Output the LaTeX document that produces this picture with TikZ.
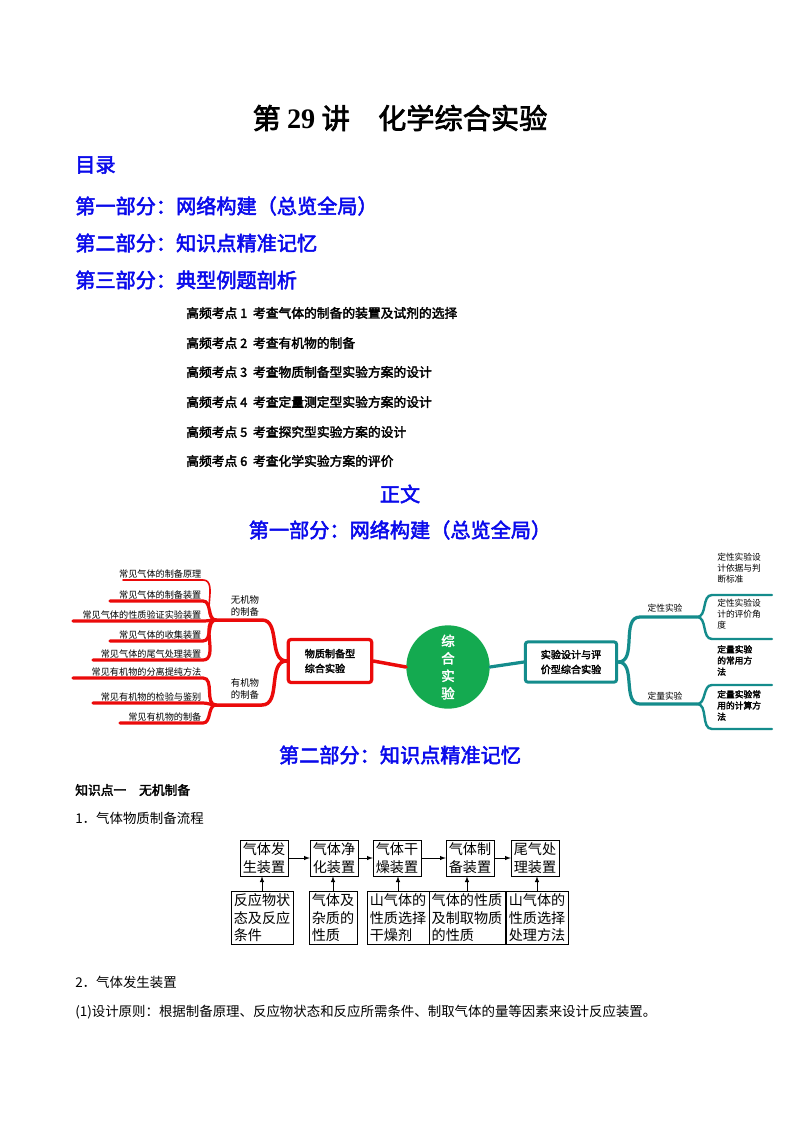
\documentclass[tikz,border=0pt]{standalone}
\usepackage{fontspec}
\setmainfont{Noto Sans CJK SC}[AutoFakeBold=2.5]
\newfontfamily\ser{Liberation Serif}
\definecolor{hblue}{RGB}{10,10,235}
\definecolor{mred}{RGB}{235,10,10}
\definecolor{teal2}{RGB}{20,140,140}
\definecolor{cgreen}{RGB}{20,170,80}
\begin{document}
\begin{tikzpicture}[x=0.744pt,y=-0.744pt,
  head/.style={text=hblue,font=\fontsize{15}{15}\selectfont\bfseries,inner sep=0},
  item/.style={anchor=west,font=\fontsize{9.5}{10}\selectfont\bfseries,inner sep=0},
  leaf/.style={anchor=south east,font=\fontsize{6.8}{7}\selectfont,inner sep=1pt},
  rl/.style={mred,line width=2.6pt,line cap=round},
  tl/.style={teal2,line width=2.4pt,line cap=round},
  tleaf/.style={anchor=north west,align=left,font=\fontsize{6.5}{8.3}\selectfont,inner sep=0},
  fb/.style={draw,line width=0.5pt,align=left,font=\fontsize{10.5}{13}\selectfont,inner sep=2pt},
  arr/.style={-latex,line width=0.5pt}]
\useasboundingbox (0,0) rectangle (800,1132);
\fill[white] (0,0) rectangle (800,1132);
\node[font=\fontsize{21}{21}\selectfont\bfseries,inner sep=0] (title) at (400,118) {第 {\ser 29} 讲\quad 化学综合实验};
\node[head,anchor=west] (ml) at (75,165) {目录};
\node[head,anchor=west] (p1) at (75,206) {第一部分：网络构建（总览全局）};
\node[head,anchor=west] (p2) at (75,243) {第二部分：知识点精准记忆};
\node[head,anchor=west] (p3) at (75,280) {第三部分：典型例题剖析};
\node[item] (i1) at (186,313) {高频考点 1\ \ 考查气体的制备的装置及试剂的选择};
\node[item] (i2) at (186,343) {高频考点 2\ \ 考查有机物的制备};
\node[item] (i3) at (186,372) {高频考点 3\ \ 考查物质制备型实验方案的设计};
\node[item] (i4) at (186,402) {高频考点 4\ \ 考查定量测定型实验方案的设计};
\node[item] (i5) at (186,432) {高频考点 5\ \ 考查探究型实验方案的设计};
\node[item] (i6) at (186,461) {高频考点 6\ \ 考查化学实验方案的评价};
\node[head] (zw) at (400,494) {正文};
\node[head] (h1) at (400,530) {第一部分：网络构建（总览全局）};
% mind map left
\node[draw=mred,line width=2.4pt,rounded corners=2pt,minimum width=62pt,minimum height=32pt,font=\fontsize{7.5}{11}\selectfont\bfseries,align=left,inner sep=5pt] (rb) at (330,661) {物质制备型\\综合实验};
\node[circle,fill=cgreen,minimum size=62pt,inner sep=0,text=white,align=center,font=\fontsize{10}{13}\selectfont\bfseries] (cc) at (448,667) {综\\合\\实\\验};
\draw[rl] (rb.east) -- (cc.west);
\coordinate (hu) at (216,620);
\coordinate (hl) at (216,705);
\draw[rl] (rb.west) to[out=180,in=0] (262,620) -- (hu);
\draw[rl] (rb.west) to[out=180,in=0] (262,705) -- (hl);
\node[font=\fontsize{7}{9}\selectfont,align=left] (lu) at (245,606) {无机物\\的制备};
\node[font=\fontsize{7}{9}\selectfont,align=left] (ll) at (245,689) {有机物\\的制备};
\foreach \y/\x/\t/\h/\w in {580/123/常见气体的制备原理/hu/1.2pt,601/110/常见气体的制备装置/hu/2.4pt,621/73/常见气体的性质验证实验装置/hu/2.4pt,641/110/常见气体的收集装置/hu/2.4pt,660/93/常见气体的尾气处理装置/hu/2.4pt,678/73/常见有机物的分离提纯方法/hl/2.4pt,703/93/常见有机物的检验与鉴别/hl/2.4pt,723/120/常见有机物的制备/hl/2.4pt}{
  \draw[mred,line width=\w,line cap=round] (\x,\y) -- (203,\y) to[out=0,in=180] (\h);
  \node[leaf] at (203,\y) {\t};
}
% right
\node[draw=teal2,line width=2.2pt,rounded corners=2pt,minimum width=68pt,minimum height=30pt,font=\fontsize{7.5}{11}\selectfont\bfseries,align=left,inner sep=5pt] (tb) at (571,662) {实验设计与评\\价型综合实验};
\draw[tl] (cc.east) -- (tb.west);
\coordinate (ru) at (697,617);
\coordinate (rl2) at (697,704);
\draw[tl] (tb.east) to[out=0,in=180] (640,617) -- (ru);
\draw[tl] (tb.east) to[out=0,in=180] (640,704) -- (rl2);
\node[font=\fontsize{6.5}{8}\selectfont] (dx) at (665,608) {定性实验};
\node[font=\fontsize{6.5}{8}\selectfont] (dl) at (665,696) {定量实验};
\foreach \y/\h in {595/ru,639/ru,685/rl2,729/rl2}{
  \draw[tl,line width=1.8pt] (\h) to[out=0,in=180] (712,\y) -- (772,\y);
}
\node[tleaf] at (717,553) {定性实验设\\计依据与判\\断标准};
\node[tleaf] at (717,599) {定性实验设\\计的评价角\\度};
\node[tleaf,font=\fontsize{6.5}{8.3}\selectfont\bfseries] at (717,645) {定量实验\\的常用方\\法};
\node[tleaf,font=\fontsize{6.5}{8.3}\selectfont\bfseries] at (717,690) {定量实验常\\用的计算方\\法};
\node[head] (h2) at (400,755) {第二部分：知识点精准记忆};
\node[anchor=west,inner sep=0,font=\fontsize{9.5}{10}\selectfont\bfseries] (k1) at (75,790) {知识点一\quad 无机制备};
\node[anchor=west,inner sep=0,font=\fontsize{10}{10}\selectfont] (s1) at (75,818) {1．气体物质制备流程};
% flowchart
\node[fb] (a1) at (264,858) {气体发\\生装置};
\node[fb] (a2) at (334,858) {气体净\\化装置};
\node[fb] (a3) at (397,858) {气体干\\燥装置};
\node[fb] (a4) at (470,858) {气体制\\备装置};
\node[fb] (a5) at (535,858) {尾气处\\理装置};
\node[fb] (b1) at (262,918) {反应物状\\态及反应\\条件};
\node[fb] (b2) at (333,918) {气体及\\杂质的\\性质};
\node[fb] (b3) at (398,918) {山气体的\\性质选择\\干燥剂};
\node[fb] (b4) at (467,918) {气体的性质\\及制取物质\\的性质};
\node[fb] (b5) at (537,918) {山气体的\\性质选择\\处理方法};
\foreach \i/\j in {a1/a2,a2/a3,a3/a4,a4/a5}{\draw[arr] (\i) -- (\j);}
\foreach \i in {1,...,5}{\draw[arr] (b\i.north) -- (b\i.north |- a\i.south);}
\node[anchor=west,inner sep=0,font=\fontsize{10}{10}\selectfont] (s2) at (75,982) {2．气体发生装置};
\node[anchor=west,inner sep=0,font=\fontsize{10}{10}\selectfont] (s3) at (75,1012) {(1)设计原则：根据制备原理、反应物状态和反应所需条件、制取气体的量等因素来设计反应装置。};
\end{tikzpicture}
\end{document}
